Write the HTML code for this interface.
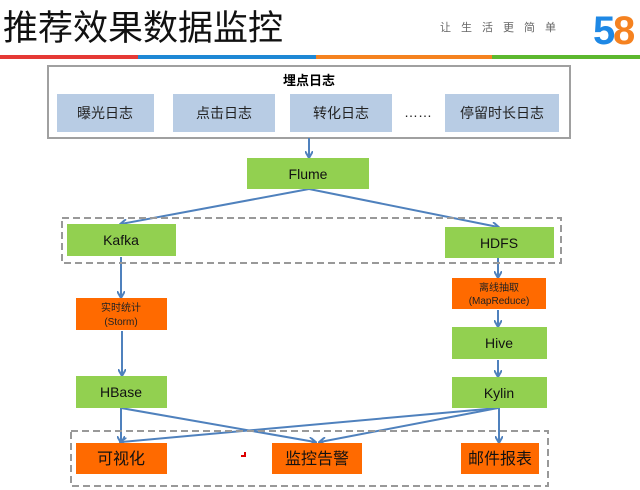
<!DOCTYPE html>
<html><head><meta charset="utf-8"><style>
html,body{margin:0;padding:0;background:#fff;}
svg{display:block;font-family:"Liberation Sans","Noto Sans CJK SC",sans-serif;}
</style></head><body>
<svg width="640" height="490" viewBox="0 0 640 490" xmlns="http://www.w3.org/2000/svg">
<defs><marker id="a" markerWidth="8" markerHeight="8" refX="6" refY="4" orient="auto" markerUnits="userSpaceOnUse"><path d="M0,0 L7,4 L0,8" fill="none" stroke="#4f81bd" stroke-width="2"/></marker></defs>
<text x="3" y="40" font-size="35" fill="#111">推荐效果数据监控</text>
<text x="440" y="31" font-size="11" fill="#666" letter-spacing="10">让生活更简单</text>
<text x="593" y="44" font-size="40" font-weight="bold" fill="#1e88e5">5</text>
<text x="613" y="44" font-size="40" font-weight="bold" fill="#f58220">8</text>
<rect x="0" y="55" width="138" height="4" fill="#e53935"/>
<rect x="138" y="55" width="178" height="4" fill="#1e88d5"/>
<rect x="316" y="55" width="176" height="4" fill="#f58220"/>
<rect x="492" y="55" width="148" height="4" fill="#5cb82e"/>
<rect x="48" y="66" width="522" height="72" fill="none" stroke="#a0a0a0" stroke-width="2"/>
<text x="309" y="85" font-size="13" font-weight="bold" text-anchor="middle">埋点日志</text>
<g fill="#b8cce4">
<rect x="57" y="94" width="97" height="38"/><rect x="173" y="94" width="102" height="38"/>
<rect x="290" y="94" width="102" height="38"/><rect x="445" y="94" width="114" height="38"/></g>
<g font-size="14" text-anchor="middle" fill="#222">
<text x="105" y="118">曝光日志</text><text x="224" y="118">点击日志</text><text x="341" y="118">转化日志</text>
<text x="418" y="117">……</text><text x="502" y="118">停留时长日志</text></g>
<g stroke="#4f81bd" stroke-width="2" fill="none" marker-end="url(#a)">
<line x1="309" y1="138" x2="309" y2="157"/>
<line x1="309" y1="189" x2="121" y2="224"/>
<line x1="309" y1="189" x2="498" y2="227"/>
<line x1="121" y1="257" x2="121" y2="297"/>
<line x1="122" y1="331" x2="122" y2="375"/>
<line x1="498" y1="258" x2="498" y2="277"/>
<line x1="498" y1="310" x2="498" y2="326"/>
<line x1="498" y1="360" x2="498" y2="376"/>
<line x1="121" y1="408" x2="121" y2="442"/>
<line x1="121" y1="408" x2="315" y2="442"/>
<line x1="498" y1="408" x2="121" y2="442"/>
<line x1="498" y1="408" x2="320" y2="442"/>
<line x1="499" y1="408" x2="499" y2="442"/>
</g>
<g fill="#92d050">
<rect x="247" y="158" width="122" height="31"/>
<rect x="67" y="224" width="109" height="32"/><rect x="445" y="227" width="109" height="31"/>
<rect x="452" y="327" width="95" height="32"/><rect x="452" y="377" width="95" height="31"/>
<rect x="76" y="376" width="91" height="32"/></g>
<g fill="#ff6a00">
<rect x="76" y="298" width="91" height="32"/><rect x="452" y="278" width="94" height="31"/>
<rect x="76" y="443" width="91" height="31"/><rect x="272" y="443" width="90" height="31"/><rect x="461" y="443" width="78" height="31"/></g>
<g fill="none" stroke="#999" stroke-width="2" stroke-dasharray="7,4">
<rect x="62" y="218" width="499" height="45"/><rect x="71" y="431" width="477" height="55"/></g>
<g font-size="14" text-anchor="middle" fill="#111">
<text x="308" y="179">Flume</text><text x="121" y="245">Kafka</text><text x="499" y="248">HDFS</text>
<text x="499" y="348">Hive</text><text x="499" y="398">Kylin</text><text x="121" y="397">HBase</text>
<text x="121" y="464" font-size="16">可视化</text><text x="317" y="464" font-size="16">监控告警</text><text x="500" y="464" font-size="16">邮件报表</text></g>
<g font-size="10" text-anchor="middle" fill="#222">
<text x="121" y="311">实时统计</text><text x="121" y="325">(Storm)</text>
<text x="499" y="291">离线抽取</text><text x="499" y="304">(MapReduce)</text></g>
<path d="M245,452 v4 h-4" stroke="#d00" stroke-width="2" fill="none"/>
</svg>
</body></html>
